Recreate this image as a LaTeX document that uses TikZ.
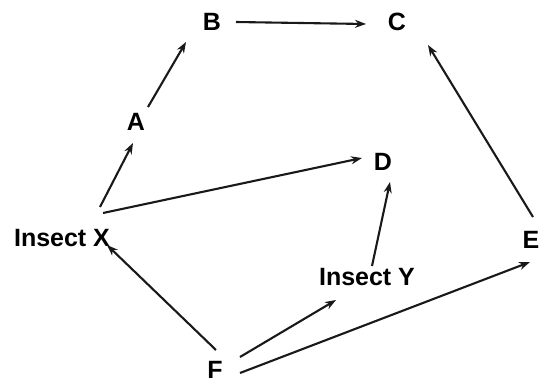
\documentclass[tikz,border=0pt]{standalone}
\usepackage{fontspec}
\setmainfont{Liberation Sans}
\usetikzlibrary{arrows.meta}
\begin{document}
\begin{tikzpicture}[x=1pt,y=-1pt,
  lbl/.style={font=\bfseries\fontsize{25}{25}\selectfont, inner sep=0pt},
  arr/.style={-{Stealth[length=11pt,width=8pt]}, line width=2.1pt, black!90}]
\useasboundingbox[fill=white] (0,0) rectangle (541,386);
\node[lbl] (B) at (212,22) {B};
\node[lbl] (C) at (397,22) {C};
\node[lbl] (A) at (136,122) {A};
\node[lbl] (D) at (383,162) {D};
\node[lbl] (X) at (62,238) {Insect X};
\node[lbl] (E) at (531,240) {E};
\node[lbl] (Y) at (367,277) {Insect Y};
\node[lbl] (F) at (215,370) {F};
\draw[arr] ([shift={(24,0)}]B.center) -- ([shift={(-31,2)}]C.center);
\draw[arr] ([shift={(12,-15)}]A.center) -- ([shift={(-26,20)}]B.center);
\draw[arr] ([shift={(38,-31)}]X.center) -- ([shift={(-3,21)}]A.center);
\draw[arr] ([shift={(41,-25)}]X.center) -- ([shift={(-21,-4)}]D.center);
\draw[arr] ([shift={(5,-11)}]Y.center) -- ([shift={(7,20)}]D.center);
\draw[arr] ([shift={(2,-23)}]E.center) -- ([shift={(31,23)}]C.center);
\draw[arr] ([shift={(1,-20)}]F.center) -- ([shift={(45,7)}]X.center);
\draw[arr] ([shift={(25,-13)}]F.center) -- ([shift={(-31,23)}]Y.center);
\draw[arr] ([shift={(25,3)}]F.center) -- ([shift={(-1,22)}]E.center);
\end{tikzpicture}
\end{document}
